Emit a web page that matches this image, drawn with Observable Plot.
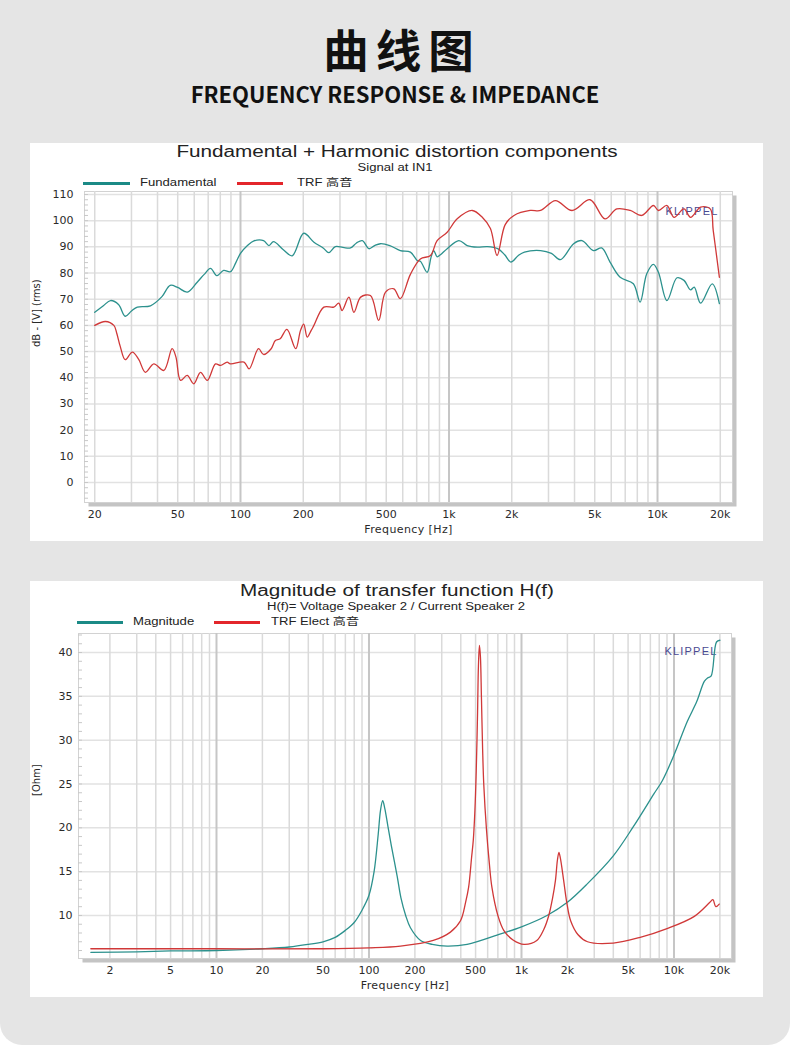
<!DOCTYPE html>
<html><head><meta charset="utf-8">
<script src="https://cdn.jsdelivr.net/npm/d3@7"></script>
<script src="https://cdn.jsdelivr.net/npm/@observablehq/plot@0.6"></script>
<style>
html,body{margin:0;padding:0;background:#fff;}
#page{position:relative;width:790px;height:1045px;background:#e5e5e5;border-radius:0 0 22px 22px;overflow:hidden;}
.panel{position:absolute;left:30px;width:733px;background:#fff;}
.t{position:absolute;white-space:nowrap;color:#222;}
.sw{position:absolute;height:3px;}
.plot{position:absolute;left:30px;}
</style></head>
<body><div id="page"></div>
<script>
// ---------- Chart 1: Fundamental + Harmonic distortion ----------
const fundFreq = [20,22,23.8,26,28,30,32,37,42,46,50,55.6,62,67,71.8,77,83,89.5,95,100,108,116,129,137,144,160,177,201,225,250,265,285,310,337,360,384,413,440,469,520,584,653,704,729,786,820,845,877,910,980,1115,1222,1368,1530,1712,1850,1980,2150,2300,2750,3100,3420,3960,4340,4930,5400,5920,6620,7660,8250,8880,9560,10100,11100,12400,13400,14400,15000,16100,18300,19800];
const fundDb = [65.0,67.5,69.5,68,63.5,65.5,67,67.5,71,75.3,74.5,72.7,76.5,79.5,81.8,79,81,80.5,84,87.5,90.5,92.3,92.4,90.5,92,89,86.6,95.2,91.8,89.5,87.8,90.1,89.8,89.6,91.5,92.4,89.3,90.5,91.2,90.5,88.6,88,84.8,84.5,80.3,86,88.6,86.2,87,89.3,92.4,90.5,89.9,90.1,89.3,87,84.2,86.7,88,88.6,87.5,85.1,91.2,92.4,88.6,89.6,84.2,78.4,75.9,68.9,79.7,83.3,80.3,69.5,78.2,77.2,73.6,74.6,68.5,75.9,68.3];
const trfFreq = [20,22.5,24.7,25.5,26.5,28,30.3,32.5,35,38.4,42.9,47,49,51.6,55.5,59.7,64.3,69.3,75.9,80.2,86.3,89.5,104,110,122,129,140,147,155,167,184,194,201,209,218,225,251,280,296,307,331,350,377,420,460,496,544,584,653,729,815,877,980,1095,1293,1444,1580,1700,1860,2050,2450,2750,3240,3890,4750,5600,6380,7400,8400,9560,10100,11100,12000,13400,14400,16100,17900,18500,19800];
const trfDb = [60,61.5,60,57,52,46.9,49.8,47,42.1,45.3,42.8,51.1,48,39,40.9,37.7,42.1,39,45.3,44.7,46,45.3,46,43.4,51.1,48.9,51,54.2,54.9,58.5,51.1,58.1,60.5,55.5,58,60,67,67,68.5,65.7,70.8,65,70.8,71.4,61.9,72.7,74,70.2,79.5,85.4,86.7,92.4,95.6,100.7,103.9,101.3,97,86.7,98.5,102,103.9,103.9,107.7,103.9,108,100.7,104.5,103.9,102,105.8,103.9,105.8,101.3,104.5,101.3,105.2,104.5,96.3,78.4];
const topXTicks = [20,50,100,200,500,1000,2000,5000,10000,20000];
const topXLabels = ["20","50","100","200","500","1k","2k","5k","10k","20k"];
const topYTicks = [0,10,20,30,40,50,60,70,80,90,100,110];
const topGrid = [20,30,40,50,60,70,80,90,200,300,400,500,600,700,800,900,2000,3000,4000,5000,6000,7000,8000,9000,20000];
const topDecades = [100,1000,10000];
const topXDomain = [17.86, 22890];
const topYDomain = [-7.64, 111.15];

// ---------- Chart 2: Magnitude of transfer function ----------
const magFreq = [1.5,3,5,10,20,30,40,50,60,70,80,90,100,108,115,119,123,127,133,140,153,162,174,187,218,260,325,440,730,1000,1470,2000,2700,4000,5400,7400,8400,10000,12200,14100,15800,16600,17500,19000,20000];
const magOhm = [5.8,5.85,5.95,6.0,6.2,6.4,6.7,7.0,7.5,8.3,9.2,10.6,12.3,15,19.3,22,23.1,22.2,20.2,18,14.5,12,10,8.6,7.15,6.7,6.5,6.7,7.9,8.7,10,11.5,13.6,16.8,20.1,23.9,25.4,28.3,32.1,34.4,36.7,37.1,37.3,41.2,41.4];
const elecFreq = [1.5,10,50,100,161,264,342,398,430,450,470,483,495,505,515,522,530,538,546,556,566,590,615,640,700,765,880,1040,1260,1400,1510,1600,1670,1720,1760,1800,1890,1980,2100,2350,2710,4000,6000,9000,13600,17200,18000,18800,19800];
const elecOhm = [6.2,6.2,6.2,6.3,6.5,7.15,8.1,9.4,11.5,13.2,16.5,18.6,22,26.5,33,38.5,40.8,39.5,35,29,24.9,19.7,16,13.2,10,8.3,7.2,6.7,7.15,8.4,10,12,14,16.3,17.2,16.5,14,11.5,9.4,7.8,7,6.85,7.5,8.5,9.9,11.5,11.8,11.0,11.3];
const botXTicks = [2,5,10,20,50,100,200,500,1000,2000,5000,10000,20000];
const botXLabels = ["2","5","10","20","50","100","200","500","1k","2k","5k","10k","20k"];
const botYTicks = [10,15,20,25,30,35,40];
const botGrid = [2,3,4,5,6,7,8,9,20,30,40,50,60,70,80,90,200,300,400,500,600,700,800,900,2000,3000,4000,5000,6000,7000,8000,9000,20000];
const botDecades = [10,100,1000,10000];
const botXDomain = [1.245, 23830];
const botYDomain = [5.09, 42.17];

const TEAL = "#2c918d", RED = "#d03838";
const TEAL_LEG = "#1b8a86", RED_LEG = "#e3262b";

const page = document.getElementById("page");
function el(cls, css, html) {
  const d = document.createElement("div");
  d.className = cls; Object.assign(d.style, css);
  if (html != null) d.textContent = html;
  page.appendChild(d); return d;
}
// text with cap-centre at y
function txt(str, x, y, size, opts = {}) {
  const {anchor = "start", sx = 1.31, family = '"Liberation Sans","Noto Sans CJK SC"', weight = 400, color = "#222"} = opts;
  return el("t", {left: x + "px", top: (y - 0.49 * size) + "px", fontSize: size + "px", lineHeight: size + "px",
    fontFamily: family, fontWeight: weight, color,
    transformOrigin: anchor === "middle" ? "center" : "left",
    transform: (anchor === "middle" ? "translateX(-50%) " : "") + `scaleX(${sx})`}, str);
}

// headings
el("t", {left: "0px", width: "790px", top: "26px", textAlign: "center", font: '700 45.5px/45.5px "Noto Sans CJK SC"', letterSpacing: "7px", paddingLeft: "7px", color: "#111"}, "曲线图");
el("t", {left: "0px", width: "790px", top: "82px", textAlign: "center", font: '700 22px/22px "Noto Sans CJK SC"', color: "#111"}, "FREQUENCY RESPONSE & IMPEDANCE");

// panels
el("panel", {top: "143px", height: "398px"});
el("panel", {top: "581px", height: "416px"});

// chart 1 header
txt("Fundamental + Harmonic distortion components", 396.5, 152, 15.8, {anchor: "middle"});
txt("Signal at IN1", 395, 167.5, 10, {anchor: "middle"});
el("sw", {left: "83px", width: "47px", top: "181.5px", background: TEAL_LEG});
txt("Fundamental", 140, 182.5, 10);
el("sw", {left: "237px", width: "46px", top: "181.5px", background: RED_LEG});
txt("TRF  高音", 297, 182.5, 10);

// chart 2 header
txt("Magnitude of transfer function H(f)", 397, 591, 15.8, {anchor: "middle"});
txt("H(f)= Voltage Speaker 2 / Current Speaker 2", 396, 606.5, 10, {anchor: "middle"});
el("sw", {left: "77px", width: "46px", top: "620.5px", background: TEAL_LEG});
txt("Magnitude", 133, 622, 10);
el("sw", {left: "214px", width: "46px", top: "620.5px", background: RED_LEG});
txt("TRF Elect  高音", 271, 622, 10);

const fundData = fundFreq.map((f, i) => ({f, v: fundDb[i]}));
const trfData = trfFreq.map((f, i) => ({f, v: trfDb[i]}));
const magData = magFreq.map((f, i) => ({f, v: magOhm[i]}));
const elecData = elecFreq.map((f, i) => ({f, v: elecOhm[i]}));

function chart({width, height, mt, mb, ml, mr, xDomain, yDomain, grid, decades, yTicks, yMinor, xTicks, xLabels, yTitle, yTitleDx, yPad, series, klDy}) {
  return Plot.plot({
    width, height, marginTop: mt, marginBottom: mb, marginLeft: ml, marginRight: mr,
    style: {fontFamily: "DejaVu Sans", fontSize: "11px", background: "transparent", color: "#333", overflow: "visible"},
    x: {type: "log", domain: xDomain, axis: null},
    y: {domain: yDomain},
    marks: [
      Plot.frame({fill: "#c4c4c4", dx: 4, dy: 4}),
      Plot.frame({fill: "white", stroke: "#d2d2d2"}),
      Plot.ruleY(yTicks, {stroke: "#e2e2e2", strokeWidth: 1.5}),
      Plot.ruleX(grid, {stroke: "#dadada", strokeWidth: 1.5}),
      Plot.ruleX(decades, {stroke: "#c6c6c6", strokeWidth: 2}),
      Plot.axisY(yMinor, {anchor: "left", tickSize: 4, dx: 4, text: null, stroke: "#c8c8c8", label: null}),
      Plot.axisY(yTicks, {anchor: "left", tickSize: 0, tickPadding: yPad, label: null, fill: "#2a2a2a"}),
      Plot.text(xTicks, {x: d => d, frameAnchor: "bottom", dy: 15, text: (d, i) => xLabels[i], fontSize: 11, fill: "#2a2a2a"}),
      Plot.text(["Frequency [Hz]"], {frameAnchor: "bottom", dy: 30, text: d => d, fontSize: 11, fill: "#2a2a2a"}),
      Plot.text([yTitle], {frameAnchor: "left", dx: yTitleDx, rotate: -90, text: d => d, fontSize: 10, fill: "#2a2a2a"}),
      Plot.text(["KLIPPEL"], {frameAnchor: "top-right", dx: -14, dy: klDy, textAnchor: "end", text: d => d, fontFamily: "Liberation Sans", fontSize: 11, fill: "#4a4a92"}),
      ...series.map(s => Plot.line(s.data, {x: "f", y: "v", stroke: s.color, strokeWidth: 1.3, curve: "catmull-rom"}))
    ]
  });
}

const c1 = chart({width: 733, height: 356, mt: 6, mb: 39, ml: 54, mr: 31,
  xDomain: topXDomain, yDomain: topYDomain, grid: topGrid, decades: topDecades,
  yTicks: topYTicks, yMinor: d3.range(-6, 111, 2), xTicks: topXTicks, xLabels: topXLabels,
  yTitle: "dB - [V] (rms)", yTitleDx: -48, yPad: 11, klDy: 16,
  series: [{data: fundData, color: TEAL}, {data: trfData, color: RED}]});
c1.classList.add("plot"); c1.style.top = "185px";
page.appendChild(c1);

const c2 = chart({width: 733, height: 369, mt: 5, mb: 39, ml: 48, mr: 32,
  xDomain: botXDomain, yDomain: botYDomain, grid: botGrid, decades: botDecades,
  yTicks: botYTicks, yMinor: d3.range(6, 43, 1), xTicks: botXTicks, xLabels: botXLabels,
  yTitle: "[Ohm]", yTitleDx: -42, yPad: 6, klDy: 14,
  series: [{data: magData, color: TEAL}, {data: elecData, color: RED}]});
c2.classList.add("plot"); c2.style.top = "628px";
page.appendChild(c2);

// widen the KLIPPEL and axis-title letters like the stretched original
document.querySelectorAll("svg text").forEach(t => {
  if (t.textContent === "KLIPPEL") t.setAttribute("letter-spacing", "1.2");
  if (t.textContent === "Frequency [Hz]") t.setAttribute("letter-spacing", "0.4");
});
</script></body></html>
